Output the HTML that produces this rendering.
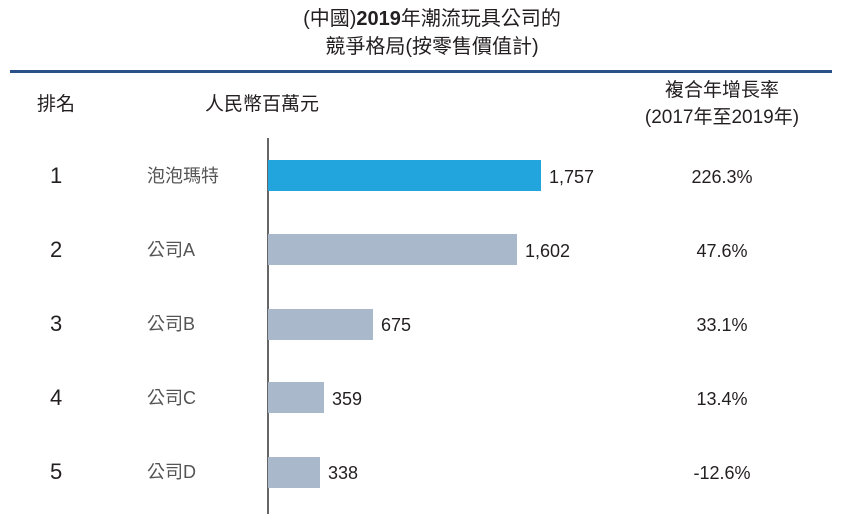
<!DOCTYPE html><html><head><meta charset="utf-8"><style>
body{margin:0;width:864px;height:527px;background:#fff;position:relative;font-family:"Liberation Sans","Noto Sans CJK TC",sans-serif;color:#231f20;overflow:hidden}
.a{position:absolute;white-space:nowrap;line-height:20px}
.t{font-size:20px;left:0;width:864px;text-align:center}
.h{font-size:19px}
.r{font-size:22px;left:50px}
.l{font-size:18px;left:147px;color:#555}
.v{font-size:18px}
.p{font-size:18px;left:662px;width:120px;text-align:center}
.b{position:absolute;left:268px;height:31px;background:#a9b8cb}
</style></head><body>
<div class="a t" style="top:9px">(中國)<b>2019</b>年潮流玩具公司的</div>
<div class="a t" style="top:37px">競爭格局(按零售價值計)</div>
<div class="a" style="left:10px;top:70px;width:822px;height:3px;background:#2a5288"></div>
<div class="a h" style="left:37px;top:95px">排名</div>
<div class="a h" style="left:205px;top:95px">人民幣百萬元</div>
<div class="a h" style="left:642px;top:81px;width:160px;text-align:center">複合年增長率</div>
<div class="a h" style="left:642px;top:108px;width:160px;text-align:center">(2017年至2019年)</div>
<div class="a" style="left:267px;top:138px;width:2px;height:376px;background:#666"></div>
<div class="b" style="top:160px;width:273px;background:#22a5dd"></div>
<div class="b" style="top:234px;width:249px"></div>
<div class="b" style="top:309px;width:105px"></div>
<div class="b" style="top:382px;width:56px"></div>
<div class="b" style="top:457px;width:52px"></div>
<div class="a r" style="top:166px">1</div><div class="a l" style="top:166px">泡泡瑪特</div><div class="a v" style="left:549px;top:167px">1,757</div><div class="a p" style="top:167px">226.3%</div>
<div class="a r" style="top:240px">2</div><div class="a l" style="top:240px">公司A</div><div class="a v" style="left:525px;top:241px">1,602</div><div class="a p" style="top:241px">47.6%</div>
<div class="a r" style="top:314px">3</div><div class="a l" style="top:314px">公司B</div><div class="a v" style="left:381px;top:315px">675</div><div class="a p" style="top:315px">33.1%</div>
<div class="a r" style="top:388px">4</div><div class="a l" style="top:388px">公司C</div><div class="a v" style="left:332px;top:389px">359</div><div class="a p" style="top:389px">13.4%</div>
<div class="a r" style="top:462px">5</div><div class="a l" style="top:462px">公司D</div><div class="a v" style="left:328px;top:463px">338</div><div class="a p" style="top:463px">-12.6%</div>
</body></html>
